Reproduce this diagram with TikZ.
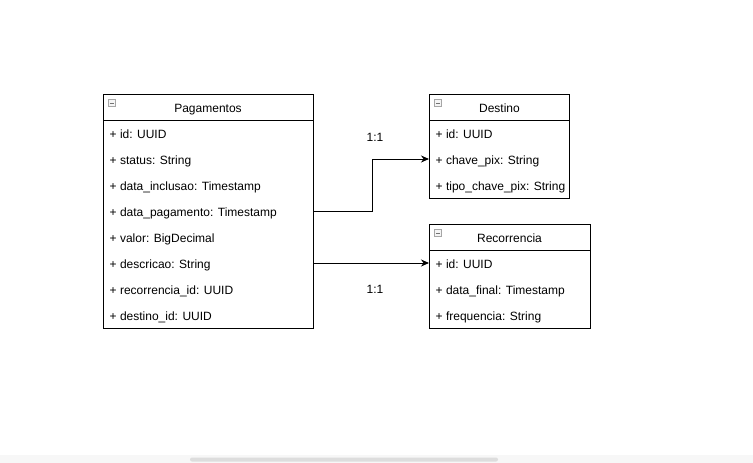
\documentclass[tikz,border=0pt]{standalone}
\usepackage{fontspec}
\setmainfont{Liberation Sans}
\usetikzlibrary{arrows.meta}

\begin{document}
\begin{tikzpicture}[x=1pt,y=-1pt,
        classbox/.style={draw,line width=1pt,anchor=north west,inner sep=0pt},
        attr/.style={anchor=base west,inner sep=0pt,font=\fontsize{12}{14}\selectfont},
        title/.style={anchor=base,inner sep=0pt,font=\fontsize{12}{14}\selectfont},
        icon/.style={draw=gray!70,fill=gray!8,line width=0.8pt,minimum width=7.5pt,minimum height=7pt,inner sep=0pt,
            path picture={\draw[gray!90!black,line width=1pt] ([xshift=1.6pt]path picture bounding box.west) -- ([xshift=-1.6pt]path picture bounding box.east);}},
        link/.style={line width=1pt,-{Stealth[length=8pt,width=7pt]}}]
        \useasboundingbox[fill=white] (0,0) rectangle (753,463);
        % scroll bar
        \fill[gray!6] (0,455) rectangle (753,463);
        \fill[gray!27,rounded corners=2pt] (190,457.5) rectangle (498,461.5);

        % Pagamentos
        \node[classbox,minimum width=210,minimum height=234] (pag) at (103,94) {};
        \draw[line width=1pt] (103,120) -- (313,120);
        \node[icon] (pagicon) at (112,103) {};
        \node[title] (pagtitle) at (208,112) {Pagamentos};
        \foreach \txt [count=\i] in {+ id: UUID, + status: String, + data\_inclusao: Timestamp,
                + data\_pagamento: Timestamp, + valor: BigDecimal, + descricao: String,
                + recorrencia\_id: UUID, + destino\_id: UUID}{
            \node[attr] (pag\i) at (109.5,112.5+26*\i) {\txt};
            \coordinate (pagrow\i) at (109.5,107+26*\i);
        }

        % Destino
        \node[classbox,minimum width=140,minimum height=104] (dest) at (429,94) {};
        \draw[line width=1pt] (429,120) -- (569,120);
        \node[icon] (desticon) at (438,103) {};
        \node[title] (desttitle) at (499.5,112) {Destino};
        \foreach \txt [count=\i] in {+ id: UUID, + chave\_pix: String, + tipo\_chave\_pix: String}{
            \node[attr] (dest\i) at (435.5,112.5+26*\i) {\txt};
            \coordinate (destrow\i) at (435.5,107+26*\i);
        }

        % Recorrencia
        \node[classbox,minimum width=161,minimum height=104] (rec) at (429,224) {};
        \draw[line width=1pt] (429,250) -- (590,250);
        \node[icon] (recicon) at (438,233) {};
        \node[title] (rectitle) at (509.5,242) {Recorrencia};
        \foreach \txt [count=\i] in {+ id: UUID, + data\_final: Timestamp, + frequencia: String}{
            \node[attr] (rec\i) at (435.5,242.5+26*\i) {\txt};
            \coordinate (recrow\i) at (435.5,237+26*\i);
        }

        % relacoes
        \draw[link] (pag.east |- pagrow4) -- ++(58,0) |- (dest.west |- destrow2);
        \draw[link] (pag.east |- pagrow6) -- (rec.west |- recrow1);
        \node[title] (card1) at (375,141) {1:1};
        \node[title] (card2) at (375,293) {1:1};
    \end{tikzpicture}
\end{document}
